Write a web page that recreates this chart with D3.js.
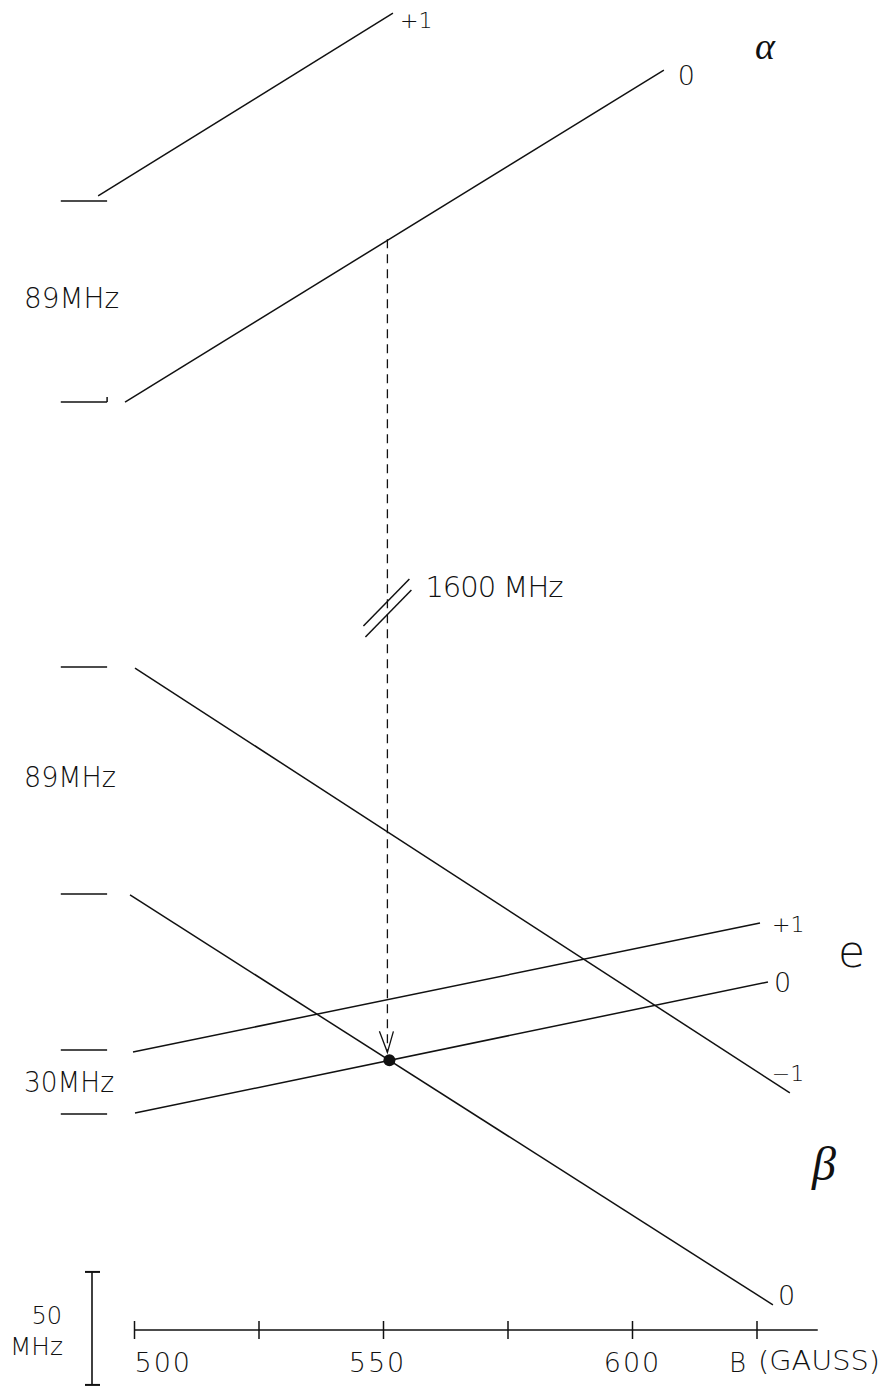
<!DOCTYPE html>
<html><head><meta charset="utf-8">
<script src="https://cdn.jsdelivr.net/npm/d3@7"></script>
<style>
html,body{margin:0;padding:0;background:#fff;}
svg{display:block;}
text{font-family:"DejaVu Sans",sans-serif;font-weight:200;fill:#111;}
text.greek{font-family:"Liberation Serif",serif;font-style:italic;font-weight:400;}
</style></head><body>
<svg id="chart" width="886" height="1388"></svg>
<script>
// ---------------- DATA ----------------
// magnetic field axis (gauss)
const bTicks = [500, 525, 550, 575, 600, 625];
const bTickLabels = ["500", "", "550", "", "600", ""];
const bAxisEnd = 637.3;
// energy level lines (level in MHz, schematic, upper group above the 1600 MHz break)
const lineGroup  = ["alpha", "alpha", "beta", "beta", "e", "e"];
const lineLabels = ["+1", "0", "\u22121", "0", "+1", "0"];
const lineBStart = [492.8, 498.2, 500.2, 499.2, 499.8, 500.2];
const lineFStart = [501.8, 410.6, 292.9, 192.5, 123.0, 96.0];
const lineBEnd   = [552.0, 606.4, 631.7, 628.3, 625.7, 627.3];
const lineFEnd   = [582.7, 557.5, 104.9, 11.1, 180.1, 154.0];
// zero-field level markers (short dashes at left)
const markerLevels = [499.6, 410.6, 293.4, 192.9, 123.9, 95.6];
const markerBFrom = 485.5, markerBTo = 494.6;
// splitting annotations
const splitTexts  = ["89MHz", "89MHz", "30MHz"];
const splitLevels = [452.2, 240.3, 105.3];
// break in the frequency axis
const breakLevel = 319.5;
const breakText = "1600 MHz";
// 50 MHz scale bar
const scaleBarFrom = -24.3, scaleBarTo = 25.7;
const scaleBarText = ["50", "MHz"];
// group symbols
const groupSymbols = ["\u03b1", "e", "\u03b2"];
const axisTitle = ["B", "(GAUSS)"];

// ---------------- SCALES ----------------
const svg = d3.select("#chart");
const x = d3.scaleLinear().domain([500, 625]).range([134, 756.5]);
const y = d3.scaleLinear().domain([0, 600]).range([1330, -26]);

const ink = "#111";

// level lines
const lines = lineLabels.map((l, i) => ({
  label: l, group: lineGroup[i],
  b0: lineBStart[i], f0: lineFStart[i], b1: lineBEnd[i], f1: lineFEnd[i]
}));
svg.append("g").selectAll("line").data(lines).join("line")
  .attr("x1", d => x(d.b0)).attr("y1", d => y(d.f0))
  .attr("x2", d => x(d.b1)).attr("y2", d => y(d.f1))
  .attr("stroke", ink).attr("stroke-width", 1.5);

// line end labels (offsets in px from line end)
const labelOffsets = [[7, 15, 22], [14, 15, 27], [-18, -12, 22], [5, 0, 27], [12, 9, 22], [6, 10, 27]];
svg.append("g").selectAll("text").data(lines).join("text")
  .attr("x", (d, i) => x(d.b1) + labelOffsets[i][0])
  .attr("y", (d, i) => y(d.f1) + labelOffsets[i][1])
  .attr("font-size", (d, i) => labelOffsets[i][2])
  .text(d => d.label);

// zero-field markers
svg.append("g").selectAll("line").data(markerLevels).join("line")
  .attr("x1", x(markerBFrom) - 1).attr("x2", x(markerBTo))
  .attr("y1", d => y(d)).attr("y2", d => y(d))
  .attr("stroke", ink).attr("stroke-width", 1.5);
// small upturn at the end of the alpha-0 marker
svg.append("line").attr("x1", x(markerBTo)).attr("x2", x(markerBTo))
  .attr("y1", y(markerLevels[1])).attr("y2", y(markerLevels[1]) - 5)
  .attr("stroke", ink).attr("stroke-width", 1.5);

// splitting labels
const splitLens = [95, 92, 90];
svg.append("g").selectAll("text").data(splitTexts).join("text")
  .attr("x", 24).attr("y", (d, i) => y(splitLevels[i]))
  .attr("font-size", 28)
  .attr("textLength", (d, i) => splitLens[i]).attr("lengthAdjust", "spacingAndGlyphs")
  .text(d => d);

// crossing point of beta 0 and e 0
const L1 = lines[3], L2 = lines[5];
const s1 = (L1.f1 - L1.f0) / (L1.b1 - L1.b0), s2 = (L2.f1 - L2.f0) / (L2.b1 - L2.b0);
const bX = (L2.f0 - s2 * L2.b0 - L1.f0 + s1 * L1.b0) / (s1 - s2);
const fX = L1.f0 + s1 * (bX - L1.b0);
const A0 = lines[1];
const fTop = A0.f0 + (A0.f1 - A0.f0) / (A0.b1 - A0.b0) * (bX - A0.b0);

const xd = x(bX) - 2, yDot = y(fX), tipY = yDot - 8;
svg.append("line")
  .attr("x1", xd).attr("x2", xd).attr("y1", y(fTop)).attr("y2", tipY)
  .attr("stroke", ink).attr("stroke-width", 1.3).attr("stroke-dasharray", "9,6");
svg.append("path")
  .attr("d", `M${xd - 8},${tipY - 21}L${xd},${tipY}L${xd + 6},${tipY - 21}`)
  .attr("fill", "none").attr("stroke", ink).attr("stroke-width", 1.3);
svg.append("circle").attr("cx", x(bX)).attr("cy", yDot).attr("r", 6).attr("fill", ink);

// break marks
const yb = y(breakLevel);
[[-1, -5.5], [1, 5.5]].forEach(o => {
  svg.append("line")
    .attr("x1", xd + o[0] - 23).attr("y1", yb + o[1] + 23.5)
    .attr("x2", xd + o[0] + 23).attr("y2", yb + o[1] - 23.5)
    .attr("stroke", ink).attr("stroke-width", 1.5);
});
svg.append("text").attr("x", xd + 38).attr("y", yb - 11)
  .attr("font-size", 29).attr("textLength", 138).attr("lengthAdjust", "spacing")
  .text(breakText);

// group symbols
svg.append("text").attr("class", "greek").attr("x", 755).attr("y", 59)
  .attr("font-size", 38).text(groupSymbols[0]);
svg.append("text").attr("x", 838).attr("y", 967)
  .attr("font-size", 44).text(groupSymbols[1]);
svg.append("text").attr("class", "greek").attr("x", 812).attr("y", 1180)
  .attr("font-size", 48).text(groupSymbols[2]);

// B axis
const axisY = y(0);
const axis = d3.axisBottom(x).tickValues(bTicks).tickSize(9)
  .tickFormat((d, i) => bTickLabels[i]);
const gA = svg.append("g").attr("transform", `translate(0,${axisY})`).call(axis);
gA.select(".domain").remove();
gA.selectAll(".tick line").attr("y1", -9).attr("y2", 9).attr("stroke", ink).attr("stroke-width", 1.5);
gA.selectAll(".tick text").attr("y", 42).attr("dy", 0).attr("fill", ink)
  .attr("font-size", 27).attr("letter-spacing", 2);
gA.selectAll(".tick text").filter(d => d === 500).attr("text-anchor", "start").attr("dx", 0);
gA.selectAll(".tick text").filter(d => d === 550).attr("dx", -6);
svg.append("line").attr("x1", x(500)).attr("x2", x(bAxisEnd))
  .attr("y1", axisY).attr("y2", axisY).attr("stroke", ink).attr("stroke-width", 1.5);
svg.append("text").attr("x", 729).attr("y", 1372).attr("font-size", 26).text(axisTitle[0]);
svg.append("text").attr("x", 758).attr("y", 1370).attr("font-size", 26)
  .attr("textLength", 122).attr("lengthAdjust", "spacingAndGlyphs").text(axisTitle[1]);

// scale bar
const sbx = 92;
svg.append("line").attr("x1", sbx).attr("x2", sbx)
  .attr("y1", y(scaleBarTo)).attr("y2", y(scaleBarFrom))
  .attr("stroke", ink).attr("stroke-width", 1.6);
[scaleBarTo, scaleBarFrom].forEach(v => {
  svg.append("line").attr("x1", sbx - 7).attr("x2", sbx + 8)
    .attr("y1", y(v)).attr("y2", y(v)).attr("stroke", ink).attr("stroke-width", 2);
});
svg.append("text").attr("x", 62).attr("y", 1324).attr("text-anchor", "end")
  .attr("font-size", 24).text(scaleBarText[0]);
svg.append("text").attr("x", 63).attr("y", 1355).attr("text-anchor", "end")
  .attr("font-size", 24).attr("textLength", 53).attr("lengthAdjust", "spacingAndGlyphs")
  .text(scaleBarText[1]);
</script>
</body></html>
